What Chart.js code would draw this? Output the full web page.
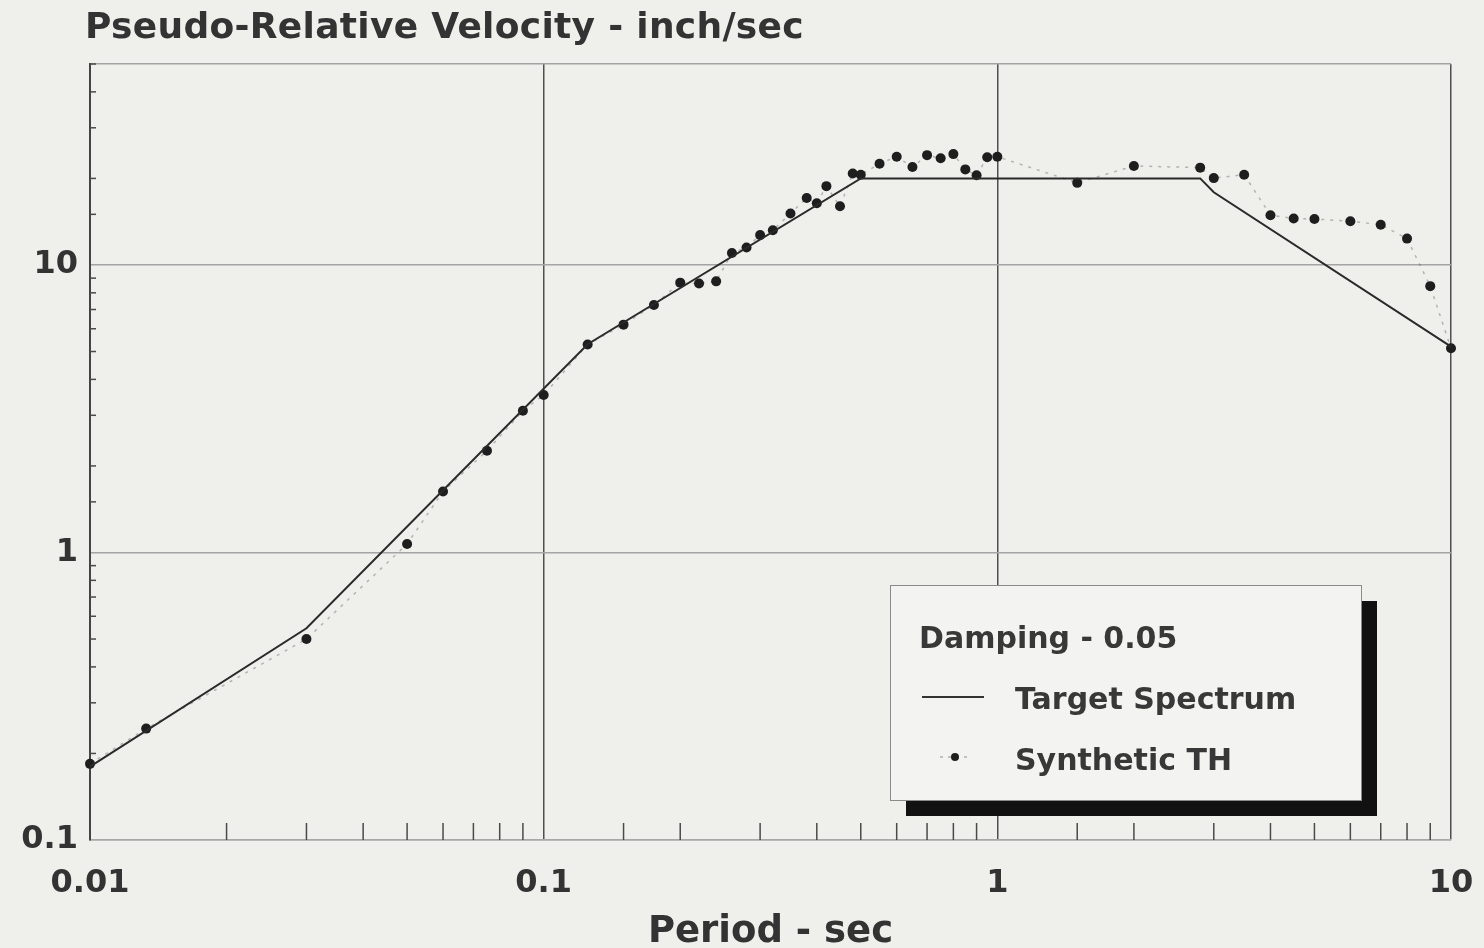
<!DOCTYPE html>
<html>
<head>
<meta charset="utf-8">
<script src="https://cdn.jsdelivr.net/npm/chart.js@4.4.1/dist/chart.umd.min.js"></script>
<style>
  html, body { margin: 0; padding: 0; background: #efefec; }
  canvas { display: block; }
</style>
</head>
<body>
<canvas id="spectrumChart" width="1484" height="948"></canvas>
<script>
// target spectrum (corner points)
const targetPeriod = [0.01, 0.03, 0.125, 0.5, 2.8, 3.0, 10];
const targetVel = [0.18, 0.545, 5.3, 20, 20, 17.9, 5.2];

// synthetic time history spectrum
const synthPeriod = [0.01, 0.0133, 0.03, 0.05, 0.06, 0.075, 0.09, 0.1, 0.125, 0.15, 0.175,
  0.2, 0.22, 0.24, 0.26, 0.28, 0.3, 0.32, 0.35, 0.38, 0.4, 0.42, 0.45, 0.48, 0.5,
  0.55, 0.6, 0.65, 0.7, 0.75, 0.8, 0.85, 0.9, 0.95, 1.0, 1.5, 2.0, 2.8, 3.0, 3.5,
  4.0, 4.5, 5.0, 6.0, 7.0, 8.0, 9.0, 10];
const synthVel = [0.184, 0.244, 0.5, 1.07, 1.63, 2.26, 3.11, 3.53, 5.29, 6.2, 7.26,
  8.68, 8.62, 8.77, 11.0, 11.5, 12.7, 13.2, 15.1, 17.1, 16.4, 18.8, 16.0, 20.8, 20.6,
  22.5, 23.8, 21.9, 24.1, 23.5, 24.3, 21.5, 20.5, 23.7, 23.8, 19.3, 22.1, 21.8, 20.05, 20.6,
  14.9, 14.5, 14.45, 14.2, 13.8, 12.35, 8.44, 5.13];

const xTickLabels = ['0.01', '0.1', '1', '10'];
const yTickLabels = ['0.1', '1', '10'];

const chartTitle = 'Pseudo-Relative Velocity - inch/sec';
const xTitle = 'Period - sec';
const dampingText = 'Damping - 0.05';
const seriesNames = ['Target Spectrum', 'Synthetic TH'];

const ink = '#333333';
const face = '"DejaVu Sans", Verdana, sans-serif';

function isDecade(v) {
    const l = Math.log10(v);
    return Math.abs(l - Math.round(l)) < 1e-6;
}

function decadeLabel(v, labels, minExp) {
    if (!isDecade(v)) return '';
    const i = Math.round(Math.log10(v)) - minExp;
    return labels[i] !== undefined ? labels[i] : '';
}

const paperPlugin = {
    id: 'paper',
    beforeDraw(chart) {
        const c = chart.ctx;
        c.save();
        c.fillStyle = '#efefec';
        c.fillRect(0, 0, chart.width, chart.height);
        c.fillStyle = ink;
        c.font = 'bold 36px ' + face;
        c.letterSpacing = '0.3px';
        c.textBaseline = 'alphabetic';
        c.fillText(chartTitle, 85, 38);
        c.restore();
    },
    beforeDatasetsDraw(chart) {
        // small inward minor ticks on bottom and left axes
        const c = chart.ctx;
        const xs = chart.scales.x, ys = chart.scales.y;
        const area = chart.chartArea;
        c.save();
        c.strokeStyle = '#4a4a4a';
        c.lineWidth = 1.5;
        xs.ticks.forEach(t => {
            if (isDecade(t.value)) return;
            const px = xs.getPixelForValue(t.value);
            c.beginPath();
            c.moveTo(px, area.bottom);
            c.lineTo(px, area.bottom - 17);
            c.stroke();
        });
        ys.ticks.forEach(t => {
            if (isDecade(t.value)) return;
            const py = ys.getPixelForValue(t.value);
            c.beginPath();
            c.moveTo(area.left, py);
            c.lineTo(area.left + 6, py);
            c.stroke();
        });
        c.restore();
    },
    afterDraw(chart) {
        const c = chart.ctx;
        const bx = 890, by = 585, bw = 471, bh = 215;
        c.save();
        c.fillStyle = '#111';
        c.fillRect(bx + 16, by + 16, bw, bh);
        c.fillStyle = '#f3f3f1';
        c.fillRect(bx, by, bw, bh);
        c.strokeStyle = '#8a8a8a';
        c.lineWidth = 1;
        c.strokeRect(bx + 0.5, by + 0.5, bw, bh);

        c.fillStyle = '#383838';
        c.font = 'bold 30px ' + face;
        c.textBaseline = 'alphabetic';
        c.fillText(dampingText, 919, 648);
        c.fillText(seriesNames[0], 1015, 709);
        c.fillText(seriesNames[1], 1015, 770);

        c.strokeStyle = '#333';
        c.lineWidth = 2;
        c.beginPath();
        c.moveTo(922, 697);
        c.lineTo(984, 697);
        c.stroke();

        c.strokeStyle = 'rgba(90,90,90,0.45)';
        c.lineWidth = 1.5;
        c.setLineDash([3, 5]);
        c.beginPath();
        c.moveTo(940, 757);
        c.lineTo(972, 757);
        c.stroke();
        c.setLineDash([]);
        c.fillStyle = '#1e1e1e';
        c.beginPath();
        c.arc(955, 757, 4, 0, Math.PI * 2);
        c.fill();
        c.restore();
    }
};

Chart.defaults.font.family = face;
Chart.defaults.font.weight = 'bold';
Chart.defaults.color = ink;

new Chart(document.getElementById('spectrumChart'), {
    type: 'line',
    data: {
        datasets: [{
            label: seriesNames[0],
            data: targetPeriod.map((p, i) => ({ x: p, y: targetVel[i] })),
            borderColor: '#2a2a2a',
            borderWidth: 2,
            pointRadius: 0,
            tension: 0,
            clip: false
        }, {
            label: seriesNames[1],
            data: synthPeriod.map((p, i) => ({ x: p, y: synthVel[i] })),
            borderColor: 'rgba(90,90,90,0.4)',
            borderWidth: 1.5,
            borderDash: [3, 6],
            pointRadius: 5,
            pointBackgroundColor: '#1e1e1e',
            pointBorderWidth: 0,
            tension: 0,
            clip: false
        }]
    },
    options: {
        responsive: false,
        animation: false,
        devicePixelRatio: 1,
        layout: { padding: { top: 64, right: 33, left: 0, bottom: 0 } },
        plugins: {
            legend: { display: false },
            tooltip: { enabled: false }
        },
        scales: {
            x: {
                type: 'logarithmic',
                min: 0.01,
                max: 10,
                afterFit(scale) {
                    scale.height = 108;
                    scale.paddingLeft = 0;
                    scale.paddingRight = 0;
                },
                border: { display: true, color: '#a8a8a8', width: 1.5 },
                grid: {
                    drawTicks: false,
                    lineWidth: 1.5,
                    color: ctx => (ctx.tick && isDecade(ctx.tick.value)) ? '#4f4f4f' : 'rgba(0,0,0,0)'
                },
                ticks: {
                    autoSkip: false,
                    maxRotation: 0,
                    padding: 24,
                    font: { size: 32 },
                    callback: v => decadeLabel(v, xTickLabels, -2)
                },
                title: {
                    display: true,
                    text: xTitle,
                    font: { size: 37 },
                    padding: { top: 0, bottom: -7 }
                }
            },
            y: {
                type: 'logarithmic',
                min: 0.1,
                max: 50,
                afterFit(scale) {
                    scale.width = 90;
                    scale.paddingTop = 0;
                    scale.paddingBottom = 0;
                },
                border: { display: true, color: '#444', width: 2 },
                grid: {
                    drawTicks: false,
                    lineWidth: 1.5,
                    color: ctx => {
                        if (!ctx.tick) return 'rgba(0,0,0,0)';
                        const v = ctx.tick.value;
                        if (isDecade(v) || Math.abs(v - 50) < 1e-6) return '#a4a4a4';
                        return 'rgba(0,0,0,0)';
                    }
                },
                ticks: {
                    autoSkip: false,
                    padding: 12,
                    font: { size: 32 },
                    callback: v => decadeLabel(v, yTickLabels, -1)
                }
            }
        }
    },
    plugins: [paperPlugin]
});
</script>
</body>
</html>
